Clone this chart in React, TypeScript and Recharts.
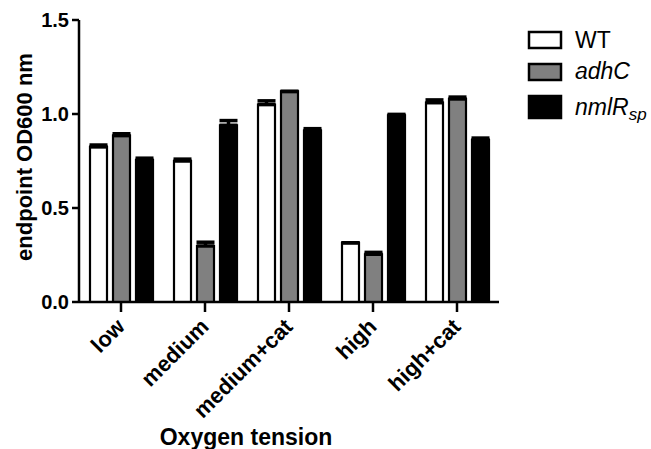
import React from 'react';
import { BarChart, Bar, XAxis, YAxis, ErrorBar } from 'recharts';

const categories = ['low', 'medium', 'medium+cat', 'high', 'high+cat'];
const wtValues = [0.825, 0.75, 1.05, 0.315, 1.06];
const wtErrors = [0.01, 0.01, 0.02, 0, 0.015];
const adhCValues = [0.885, 0.298, 1.12, 0.254, 1.08];
const adhCErrors = [0.01, 0.02, 0, 0.01, 0.01];
const nmlRValues = [0.755, 0.94, 0.912, 0.993, 0.862];
const nmlRErrors = [0.01, 0.025, 0.01, 0.005, 0.01];
const yTicks = [0, 0.5, 1.0, 1.5];
const seriesNames = ['WT', 'adhC', 'nmlR'];

const data = categories.map((c, i) => ({
  category: c,
  wt: wtValues[i],
  wtErr: [0, wtErrors[i]],
  adhC: adhCValues[i],
  adhCErr: [0, adhCErrors[i]],
  nmlR: nmlRValues[i],
  nmlRErr: [0, nmlRErrors[i]],
}));

const FONT = '"Liberation Sans", Arial, Helvetica, sans-serif';

const XTick = (props: any) => {
  const { x, y, payload } = props;
  return (
    <g transform={`translate(${x + 5},${y + 14})`}>
      <text
        x={0}
        y={0}
        textAnchor="end"
        transform="rotate(-45)"
        fontFamily={FONT}
        fontWeight="bold"
        fontSize={22}
        fill="#000"
      >
        {payload.value}
      </text>
    </g>
  );
};

const YLabel = (props: any) => {
  const vb = props.viewBox || {};
  const cy = vb.y + vb.height / 2 - 4;
  return (
    <text
      x={0}
      y={0}
      transform={`translate(32,${cy}) rotate(-90)`}
      textAnchor="middle"
      fontFamily={FONT}
      fontWeight="bold"
      fontSize={22}
      fill="#000"
    >
      endpoint OD600 nm
    </text>
  );
};

const XLabel = (props: any) => {
  const vb = props.viewBox || {};
  const cx = vb.x + vb.width / 2 - 43;
  return (
    <text
      x={cx}
      y={445}
      textAnchor="middle"
      fontFamily={FONT}
      fontWeight="bold"
      fontSize={23}
      fill="#000"
    >
      Oxygen tension
    </text>
  );
};

const legendFills = ['#ffffff', '#808080', '#000000'];
const legendBoxes = [
  { y: 32, h: 16, base: 48 },
  { y: 64, h: 16, base: 79 },
  { y: 96, h: 22, base: 115 },
];

export default function App() {
  return (
    <div style={{ position: 'absolute', left: 0, top: 0, width: 651, height: 449, background: '#fff' }}>
      <BarChart
        width={651}
        height={449}
        data={data}
        margin={{ top: 20, right: 152, bottom: 0, left: 0 }}
        barCategoryGap={11}
        barGap={6}
      >
        <YAxis
          width={79}
          domain={[0, 1.5]}
          ticks={yTicks}
          tickFormatter={(v: number) => v.toFixed(1)}
          axisLine={{ stroke: '#000', strokeWidth: 2.5 }}
          tickLine={{ stroke: '#000', strokeWidth: 2.5 }}
          tickSize={7}
          tickMargin={3}
          tick={{ fontFamily: FONT, fontWeight: 'bold', fontSize: 20, fill: '#000' }}
          label={<YLabel />}
        />
        <XAxis
          dataKey="category"
          height={147}
          axisLine={{ stroke: '#000', strokeWidth: 2.5 }}
          tickLine={{ stroke: '#000', strokeWidth: 2.5 }}
          tickSize={10}
          tick={<XTick />}
          interval={0}
          label={<XLabel />}
        />
        <Bar dataKey="wt" fill="#ffffff" stroke="#000" strokeWidth={2.2} isAnimationActive={false}>
          <ErrorBar dataKey="wtErr" width={9} stroke="#000" strokeWidth={3.5} />
        </Bar>
        <Bar dataKey="adhC" fill="#808080" stroke="#000" strokeWidth={2.2} isAnimationActive={false}>
          <ErrorBar dataKey="adhCErr" width={9} stroke="#000" strokeWidth={3.5} />
        </Bar>
        <Bar dataKey="nmlR" fill="#000000" stroke="#000" strokeWidth={2.2} isAnimationActive={false}>
          <ErrorBar dataKey="nmlRErr" width={9} stroke="#000" strokeWidth={3.5} />
        </Bar>
      </BarChart>
      <svg width={131} height={130} style={{ position: 'absolute', left: 520, top: 0 }}>
        {seriesNames.map((name, i) => (
          <g key={name}>
            <rect
              x={9}
              y={legendBoxes[i].y}
              width={32}
              height={legendBoxes[i].h}
              fill={legendFills[i]}
              stroke="#000"
              strokeWidth={2.5}
            />
            <text
              x={55}
              y={legendBoxes[i].base}
              fontFamily={FONT}
              fontSize={23}
              fontStyle={i === 0 ? 'normal' : 'italic'}
              fill="#000"
            >
              {i === 2 ? (
                <>
                  <tspan>nmlR</tspan>
                  <tspan fontSize={17} dy={5}>sp</tspan>
                </>
              ) : (
                name
              )}
            </text>
          </g>
        ))}
      </svg>
    </div>
  );
}
